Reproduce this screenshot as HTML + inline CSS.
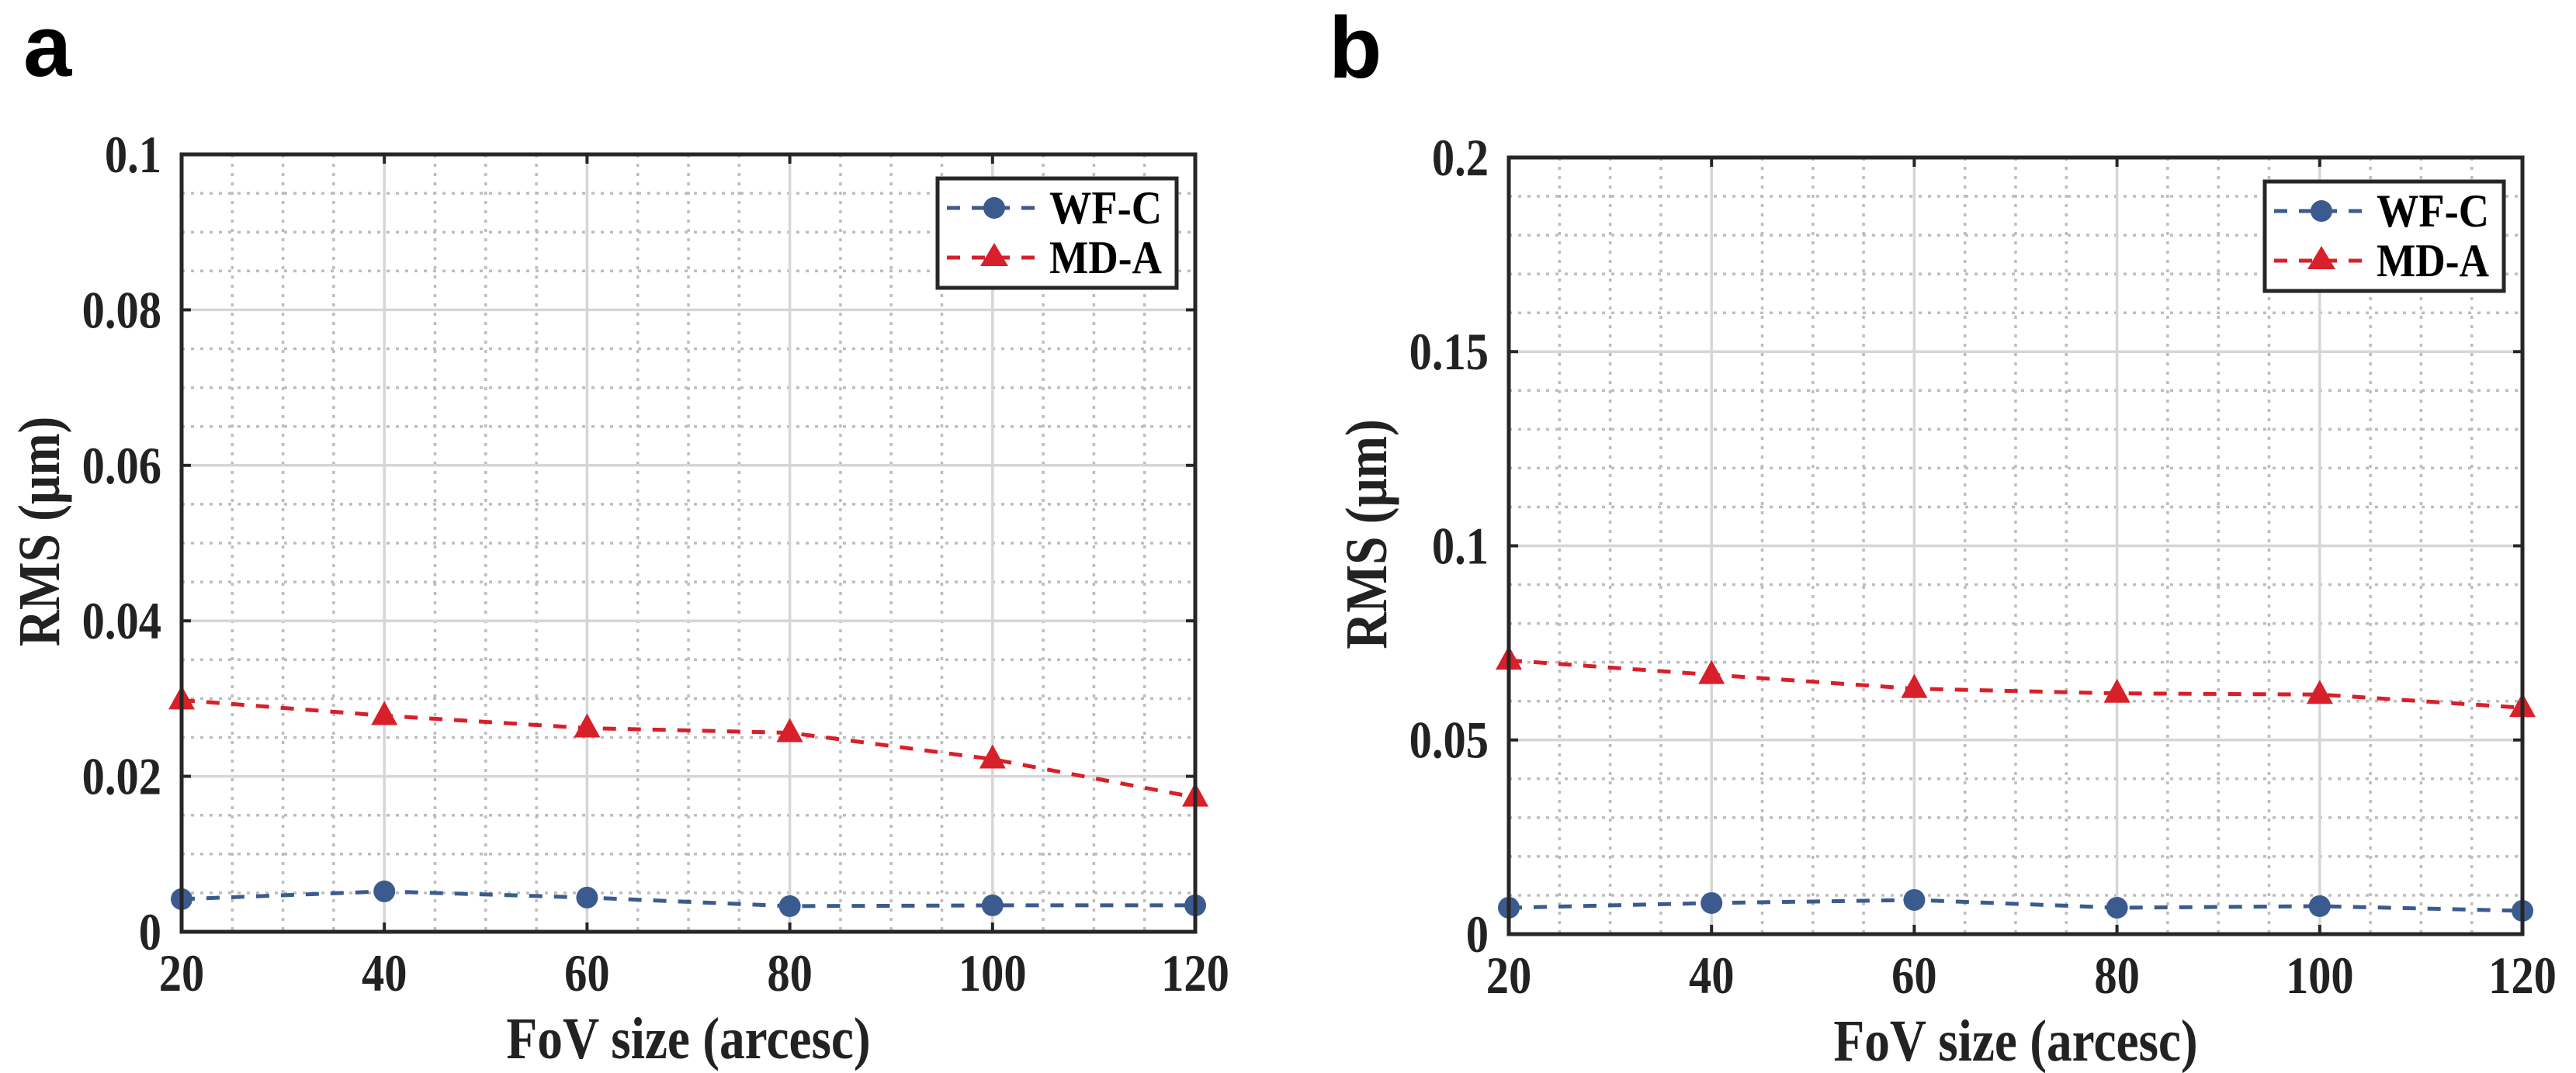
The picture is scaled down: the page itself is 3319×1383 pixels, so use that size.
<!DOCTYPE html>
<html><head><meta charset="utf-8"><style>
html,body{margin:0;padding:0;background:#fff;}
svg{display:block;}
text{font-family:"Liberation Serif","Times New Roman",serif;font-weight:bold;fill:#222;}
.cond{transform-box:fill-box;transform-origin:center;transform:scaleX(0.86);}
</style></head><body>
<svg id="chart" width="3319" height="1383" viewBox="0 0 3319 1383" xmlns="http://www.w3.org/2000/svg">
<text x="30" y="98" style="font-family:'Liberation Sans',Arial,sans-serif;font-size:112px;fill:#000">a</text>
<text x="1712" y="100" style="font-family:'Liberation Sans',Arial,sans-serif;font-size:112px;fill:#000">b</text>
</svg>
<script>
const categories = [20, 40, 60, 80, 100, 120];
const wfcA = [0.0042, 0.0052, 0.0044, 0.0033, 0.0034, 0.0034];
const mdaA = [0.0298, 0.0278, 0.0262, 0.0256, 0.0222, 0.0173];
const wfcB = [0.0068, 0.0080, 0.0088, 0.0068, 0.0072, 0.0060];
const mdaB = [0.0705, 0.0668, 0.0632, 0.0620, 0.0617, 0.0583];
const yTicksA = ["0", "0.02", "0.04", "0.06", "0.08", "0.1"];
const yTicksB = ["0", "0.05", "0.1", "0.15", "0.2"];
const xTickLabels = ["20", "40", "60", "80", "100", "120"];

const NS = "http://www.w3.org/2000/svg";
const svg = document.getElementById("chart");
function mk(tag, attrs, parent) {
  const e = document.createElementNS(NS, tag);
  for (const k in attrs) e.setAttribute(k, attrs[k]);
  (parent || svg).appendChild(e);
  return e;
}
const BLUE = "#3b5b8e", RED = "#d7202a";

function panel(id, L, R, T, B, yMax, yMajor, yMinor, yTicks, wfc, mda) {
  const g = mk("g", {});
  
  
  const xs = v => L + (v - 20) / 100 * (R - L);
  const ys = v => B - v / yMax * (B - T);
  for (let v = 25; v < 120; v += 5) {
    if (v % 20 === 0) continue;
    const l = mk("line", {x1: xs(v), x2: xs(v), y1: T, y2: B, stroke: "#bdbdbd", "stroke-width": 3.5, "stroke-dasharray": "4 8"}, g);
    
    
  }
  const nMinor = Math.round(yMax / yMinor);
  for (let i = 1; i < nMinor; i++) {
    const v = i * yMinor;
    if (Math.abs(v / yMajor - Math.round(v / yMajor)) < 1e-6) continue;
    const l = mk("line", {x1: L, x2: R, y1: ys(v), y2: ys(v), stroke: "#bdbdbd", "stroke-width": 3.5, "stroke-dasharray": "4 8"}, g);
    
    
  }
  categories.forEach((c, i) => {
    const l = mk("line", {x1: xs(c), x2: xs(c), y1: T, y2: B, stroke: "#d6d6d6", "stroke-width": 3.5}, g);
    
    
    mk("line", {x1: xs(c), x2: xs(c), y1: B, y2: B - 12, stroke: "#262626", "stroke-width": 4}, g);
    mk("line", {x1: xs(c), x2: xs(c), y1: T, y2: T + 12, stroke: "#262626", "stroke-width": 4}, g);
    const t = mk("text", {x: xs(c), y: B + 76, "text-anchor": "middle", "font-size": 68, class: "cond"}, g);
    t.textContent = xTickLabels[i];
    
    
  });
  yTicks.forEach((lab, i) => {
    const v = i * yMajor;
    const l = mk("line", {x1: L, x2: R, y1: ys(v), y2: ys(v), stroke: "#d6d6d6", "stroke-width": 3.5}, g);
    
    
    mk("line", {x1: L, x2: L + 12, y1: ys(v), y2: ys(v), stroke: "#262626", "stroke-width": 4}, g);
    mk("line", {x1: R, x2: R - 12, y1: ys(v), y2: ys(v), stroke: "#262626", "stroke-width": 4}, g);
    const t = mk("text", {x: L - 26, y: ys(v) + 23, "text-anchor": "end", "font-size": 68, style: "transform-box:fill-box;transform-origin:right center;transform:scaleX(0.86)"}, g);
    t.textContent = lab;
    
    
  });
  function series(vals, color, shape, name) {
    const pts = vals.map((v, i) => xs(categories[i]) + "," + ys(v)).join(" ");
    const pl = mk("polyline", {points: pts, fill: "none", stroke: color, "stroke-width": 5, "stroke-dasharray": "17 15"}, g);
    
    
    vals.forEach((v, i) => {
      const x = xs(categories[i]), y = ys(v);
      let m;
      if (shape === "circle") m = mk("circle", {cx: x, cy: y, r: 14, fill: color}, g);
      else m = mk("polygon", {points: `${x},${y - 19} ${x - 17},${y + 12} ${x + 17},${y + 12}`, fill: color}, g);
      
      
    });
  }
  series(wfc, BLUE, "circle", "wf-c");
  series(mda, RED, "triangle", "md-a");
  const fr = mk("rect", {x: L, y: T, width: R - L, height: B - T, fill: "none", stroke: "#262626", "stroke-width": 5}, g);
  
  
  const xt = mk("text", {x: (L + R) / 2, y: B + 163, "text-anchor": "middle", "font-size": 76, class: "cond"}, g);
  xt.textContent = "FoV size (arcesc)";
  
  
  const cy = (T + B) / 2 - 15;
  const yt = mk("text", {x: L - 158, y: cy, "text-anchor": "middle", "font-size": 76, transform: `rotate(-90 ${L - 158} ${cy}) translate(${L - 158} ${cy}) scale(0.86 1) translate(${-(L - 158)} ${-cy})`}, g);
  yt.textContent = "RMS (\u03bcm)";
  
  
  const lg = mk("g", {}, g);
  
  
  const lx = R - 24 - 308, ly = T + 31;
  mk("rect", {x: lx, y: ly, width: 308, height: 141, fill: "#fff", stroke: "#262626", "stroke-width": 5}, lg);
  [[BLUE, "circle", "WF-C", 38], [RED, "triangle", "MD-A", 102]].forEach(([c, s, lab, dy]) => {
    const e = mk("g", {}, lg);
    
    
    const y = ly + dy;
    mk("line", {x1: lx + 12, x2: lx + 127, y1: y, y2: y, stroke: c, "stroke-width": 5, "stroke-dasharray": "17 15"}, e);
    const mx = lx + 73;
    if (s === "circle") mk("ellipse", {cx: mx, cy: y, rx: 14, ry: 14, fill: c}, e);
    else mk("polygon", {points: `${mx},${y - 19} ${mx - 18},${y + 11} ${mx + 18},${y + 11}`, fill: c}, e);
    const t = mk("text", {x: lx + 144, y: y + 20, "font-size": 60, textLength: 145, lengthAdjust: "spacingAndGlyphs", style: "fill:#000"}, e);
    t.textContent = lab;
  });
}
panel("a", 234, 1540, 199, 1201, 0.1, 0.02, 0.005, yTicksA, wfcA, mdaA);
panel("b", 1944, 3250, 203, 1204, 0.2, 0.05, 0.01, yTicksB, wfcB, mdaB);
</script>
</body></html>
